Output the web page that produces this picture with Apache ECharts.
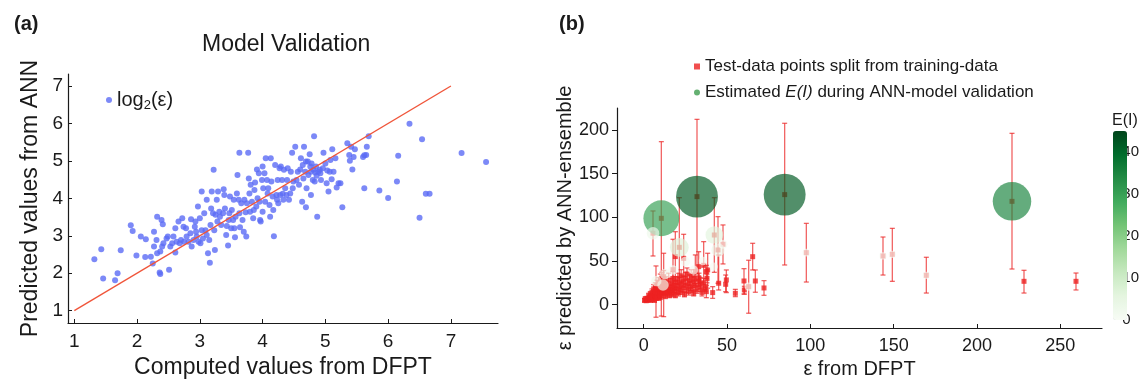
<!DOCTYPE html>
<html>
<head>
<meta charset="utf-8">
<script src="https://cdn.jsdelivr.net/npm/echarts@6/dist/echarts.min.js"></script>
<style>
  html, body { margin: 0; padding: 0; background: #fff; }
  #chart { width: 1142px; height: 387px; }
</style>
</head>
<body>
<div id="chart"></div>
<script>
// panel (a): log2(eps), computed (DFPT) vs predicted (ANN)
const logPoints = [
  [1.32,2.37],[1.43,2.64],[1.46,1.86],[1.65,1.81],[1.69,2.0],[1.74,2.61],[1.90,3.28],[1.93,3.13],
  [1.99,2.47],[2.06,2.98],[2.13,2.43],[2.14,2.91],[2.22,2.44],[2.25,2.26],[2.27,3.11],[2.32,3.51],
  [2.31,2.89],[2.36,2.02],[2.37,1.98],[2.39,3.42],[2.41,3.31],[2.51,2.09],[2.27,2.71],[2.32,2.53],
  [2.37,2.58],[2.40,2.71],[2.42,2.80],[2.47,2.93],[2.49,2.98],[2.53,2.71],[2.56,2.80],[2.58,2.98],
  [2.61,3.20],[2.61,2.55],[2.63,2.84],[2.66,3.38],[2.68,2.80],[2.70,2.89],[2.72,3.47],[2.74,3.24],
  [2.75,2.84],[2.78,3.20],[2.79,2.98],[2.82,2.84],[2.85,3.07],[2.86,3.44],[2.87,2.71],[2.90,2.89],
  [2.92,3.24],[2.93,3.38],[2.94,3.11],[2.95,2.98],[2.97,3.78],[2.98,2.84],[3.00,3.47],[3.01,2.80],
  [3.03,4.18],[3.03,3.15],[3.05,2.93],[3.07,3.60],[3.09,3.15],[3.11,3.96],[3.11,3.02],[3.13,2.53],
  [3.15,2.89],[3.16,2.28],[3.17,3.29],[3.18,3.73],[3.19,4.18],[3.21,3.60],[3.22,4.76],[3.23,3.15],
  [3.24,2.62],[3.25,3.56],[3.27,3.96],[3.28,3.38],[3.29,4.18],[3.31,3.64],[3.32,3.51],[3.34,3.29],
  [3.37,3.60],[3.38,4.24],[3.39,4.09],[3.40,3.73],[3.42,3.02],[3.43,3.26],[3.45,2.74],[3.46,3.42],
  [3.47,3.60],[3.48,4.05],[3.50,3.20],[3.51,3.69],[3.53,3.42],[3.54,3.96],[3.55,3.20],[3.56,2.96],
  [3.57,3.51],[3.59,4.13],[3.60,4.62],[3.62,3.96],[3.63,5.22],[3.63,3.60],[3.64,3.23],[3.66,3.87],
  [3.68,3.42],[3.70,3.11],[3.71,3.96],[3.73,3.63],[3.74,2.98],[3.75,3.87],[3.77,5.22],[3.78,4.53],
  [3.79,4.13],[3.80,3.64],[3.81,4.36],[3.83,3.91],[3.85,3.47],[3.86,3.69],[3.87,4.22],[3.88,4.42],
  [3.90,3.78],[3.91,4.77],[3.92,4.00],[3.94,4.67],[3.95,3.91],[3.96,3.42],[3.97,3.38],[3.99,4.49],
  [4.00,3.64],[4.00,4.85],[4.01,4.27],[4.03,4.67],[4.04,3.91],[4.05,5.07],[4.07,4.49],[4.08,4.13],
  [4.09,4.27],[4.11,3.82],[4.12,3.51],[4.13,5.07],[4.14,4.45],[4.16,4.05],[4.17,3.69],[4.18,2.99],
  [4.20,4.89],[4.22,4.09],[4.23,3.96],[4.24,4.49],[4.25,3.87],[4.27,4.80],[4.28,4.09],[4.29,4.85],
  [4.31,4.49],[4.32,4.12],[4.33,3.96],[4.34,4.76],[4.36,4.27],[4.38,4.09],[4.39,4.49],[4.40,4.80],
  [4.42,3.96],[4.44,4.13],[4.45,4.71],[4.47,5.22],[4.48,4.27],[4.49,4.45],[4.52,5.38],[4.54,4.49],
  [4.56,4.71],[4.58,4.36],[4.60,4.77],[4.61,5.07],[4.63,3.91],[4.64,4.89],[4.65,4.53],[4.66,5.38],
  [4.68,4.71],[4.69,3.76],[4.69,4.98],[4.70,4.27],[4.72,4.98],[4.73,4.62],[4.75,5.18],[4.76,4.85],
  [4.77,4.71],[4.77,4.09],[4.78,4.93],[4.80,4.49],[4.81,4.76],[4.82,5.66],[4.83,4.45],[4.84,4.69],
  [4.85,4.85],[4.86,4.60],[4.87,3.51],[4.89,4.71],[4.91,4.76],[4.92,4.67],[4.93,4.49],[4.96,4.80],
  [4.97,5.22],[5.00,4.93],[5.02,4.40],[5.03,4.74],[5.05,4.18],[5.07,4.71],[5.08,5.02],[5.10,4.51],
  [5.11,5.31],[5.13,4.71],[5.16,5.07],[5.18,4.29],[5.21,4.40],[5.24,4.40],[5.27,3.76],[5.35,5.47],
  [5.38,5.16],[5.39,5.00],[5.41,5.38],[5.43,4.77],[5.45,5.10],[5.47,5.31],[5.60,5.10],[5.62,5.15],
  [5.65,5.16],[5.66,5.38],[5.69,5.66],[5.62,4.27],[5.86,4.21],[6.00,4.01],[6.14,4.45],[6.16,5.14],
  [6.34,5.99],[6.50,3.48],[6.54,5.58],[6.60,4.12],[6.66,4.12],[7.17,5.21],[7.56,4.97]
];
const diagLine = [[1, 1], [7, 7]];
const ticksA = [1, 2, 3, 4, 5, 6, 7];

// panel (b): [eps DFPT, eps ANN, lower, upper]
const testPoints = [
  [10.6,98.8,-13,186.5],[32,123.6,35,212],[84.6,125.9,45.4,207.5],[221,118.2,40.8,196],
  [97.6,59.5,25.9,93],[143.6,55.7,33.9,77.4],[149.2,57.6,26.7,87.3],[169.6,33.6,13.3,54.2],
  [228.2,26.7,13.3,39.3],[259.4,26.7,16.8,36.2],[65.4,54.9,39.7,70.2],[67,27.1,14.2,39.7],
  [72.2,19.1,10.7,27.5],[60.2,27.1,12.2,41.2],[63,20.6,-9.8,50.8],[60.4,16.8,12,21],
  [5.6,81.7,55.7,107.2],[21.4,65.6,12,122.4],[42.4,79.7,37,122.4],[47.6,69.1,46.6,91.2],
  [44.6,62.6,24.5,100.7],[36,45,16.8,72.1],[38.4,39.7,18.8,58.8],[33,43.5,28.3,60.6],
  [31,38,22,56.9],[24,53,32,80.5],[19,55,27,83.5],[17.6,40,10,74.8],[12,28,-13.7,58.8],
  [7.4,16,-14.4,44.3],[49.6,28.3,13.8,39.7],[55,13,9.2,17.5],[49.2,23.3,14.9,33.9],
  [45,24.5,16.8,56.8],[41.4,13.8,7.2,20.6],[37.6,37.8,30,45],[37.6,14.9,8,22],
  [34,24.4,18,31],[33.2,30.1,24,36],
  [0.5,5,3,7],[1,6.5,4,9],[1.5,4.5,3,6.5],[2,7,5,9.5],[2.5,5.5,3.5,7.5],[3,6,4,8.5],[3,10,7,13],
  [3.5,8,5,11],[4,5,3,7],[4,12,9,15],[4.5,7,4.5,9.5],[5,6.5,4,9],[5,14,10,18],[5.5,9,6,12],
  [6,8,5,11],[6,13,9,17],[6,18,13,23],[6.5,5,3,7],[7,10,6,14],[7,15,10,20],[7,20,15,25],
  [7.5,7.5,5,10],[8,9,6,12],[8,22,16,28],[8.5,12,8,16],[9,8,5,11],[9,16,12,20],[9,25,19,31],
  [9.5,11,7,15],[10,9.5,6,13],[10,14,10,18],[10,28,21,35],[10.5,18,13,23],[11,12,8,16],
  [11,30,23,37],[11.5,20,14,26],[12,15,11,19],[12,32,25,39],[12.5,22,16,28],[13,17,12,22],
  [13,10,7,13],[13.5,25,18,32],[14,13,9,17],[14.5,19,14,24],[15,15,11,19],[15,28,20,36],
  [15.5,11,8,14],[16,21,16,26],[16.5,17,12,22],[17,24,18,30],[17,13,9,17],[17.5,30,22,38],
  [18,19,14,24],[18.5,16,12,20],[19,26,20,32],[19,11,8,14],[19.5,22,17,27],[20,18,13,23],
  [20.5,30,24,36],[21,14,10,18],[21.5,25,19,31],[22,20,15,25],[22.5,33,26,40],[23,16,12,20],
  [23.5,27,21,33],[24,22,17,27],[24.5,12,9,15],[25,30,23,37],[25.5,19,14,24],[26,35,28,42],
  [26.5,24,19,29],[27,15,11,19],[27.5,28,22,34],[28,21,16,26],[28.5,33,26,40],[29,18,14,22],
  [29.5,26,20,32],[30,13,10,16],[30.5,30,24,36],[31,22,17,27],[32,17,13,21],[33,27,21,33],
  [34,20,15,25],[35,14,10,18],[36,25,20,30],[37,19,15,23],[38,30,25,35]
];
// [eps DFPT, eps ANN, E(I)]
const bubbles = [
  [10.6,98.8,30],[32,123.6,42],[84.6,125.9,42],[221,118.2,35],[21.4,65.6,7],[42.4,79.7,6],
  [5.6,81.7,2.5],[44.6,62.6,3],[7.6,27.1,1.5],[11.6,22.5,2],[12.8,35.1,1.5],[17.6,39.7,1.2],
  [25,49.2,1.2],[30,39.7,1],[35.6,50,0.8],[47.6,69.1,1],[42,43.5,0.8],[63,20.6,0.8],
  [97.6,59.5,0.6],[143.6,55.7,0.5],[149.2,57.6,0.5],[169.6,33.6,0.5]
];
const xTicksB = [0, 50, 100, 150, 200, 250];
const yTicksB = [0, 50, 100, 150, 200];
const colorTicks = [0, 10, 20, 30, 40];
const greens = ['#f7fcf5', '#e5f5e0', '#c7e9c0', '#a1d99b', '#74c476', '#41ab5d', '#238b45', '#006d2c', '#00441b'];

const font = "'Liberation Sans', Arial, sans-serif";
const ink = '#1a1a1a';
const chart = echarts.init(document.getElementById('chart'));

function valueAxis(extra) {
  return Object.assign({
    type: 'value',
    splitLine: { show: false },
    axisLine: { show: true, onZero: false, lineStyle: { color: ink, width: 1.2 } },
    axisTick: { show: true, inside: true, length: 4, lineStyle: { color: ink } },
    axisLabel: { color: ink, fontFamily: font, fontSize: 19 },
    nameTextStyle: { color: ink, fontFamily: font, fontSize: 23 },
    nameLocation: 'middle'
  }, extra);
}

const errRed = 'rgba(236,40,40,0.72)';

const option = {
  animation: false,
  textStyle: { fontFamily: font },
  title: [
    { text: '(a)', left: 9, top: 9, textStyle: { fontFamily: font, fontSize: 20, fontWeight: 'bold', color: ink } },
    { text: '(b)', left: 554, top: 9, textStyle: { fontFamily: font, fontSize: 20, fontWeight: 'bold', color: ink } },
    { text: 'Model Validation', left: 197, top: 28, textStyle: { fontFamily: font, fontSize: 23, fontWeight: 'normal', color: ink } },
    { text: 'E(I)', left: 1107, top: 108, textStyle: { fontFamily: font, fontSize: 16, fontWeight: 'normal', color: ink } }
  ],
  legend: [
    {
      data: ['log2'],
      left: 101, top: 85,
      icon: 'circle', itemWidth: 6, itemHeight: 6,
      formatter: () => '{a|log}{s|2}{a|(ε)}',
      textStyle: {
        color: ink,
        rich: {
          a: { fontFamily: font, fontSize: 20, color: ink },
          s: { fontFamily: font, fontSize: 13, color: ink, padding: [10, 0, 0, 0] }
        }
      }
    },
    {
      data: [
        { name: 'Test-data points split from training-data', icon: 'rect', itemStyle: { color: '#ee2222' } },
        { name: 'Estimated E(I) during ANN-model validation', icon: 'circle', itemStyle: { color: '#1b8a2e' } }
      ],
      left: 689, top: 53, orient: 'vertical', itemGap: 9,
      itemWidth: 6, itemHeight: 6,
      formatter: name => name.startsWith('Estimated')
        ? '{n|Estimated }{i|E(I)}{n| during ANN-model validation}'
        : '{n|' + name + '}',
      textStyle: {
        rich: {
          n: { fontFamily: font, fontSize: 17, color: ink },
          i: { fontFamily: font, fontSize: 17, color: ink, fontStyle: 'italic' }
        }
      }
    }
  ],
  grid: [
    { left: 68, top: 74, width: 430, height: 249 },
    { left: 617, top: 108, width: 485, height: 220 },
    { left: 1113, top: 131, width: 14, height: 189 }
  ],
  xAxis: [
    valueAxis({
      gridIndex: 0, min: 0.9, max: 7.75,
      name: 'Computed values from DFPT', nameGap: 30,
      axisTick: { show: true, inside: true, length: 4, customValues: ticksA, lineStyle: { color: ink } },
      axisLabel: { color: ink, fontFamily: font, fontSize: 19, margin: 9, customValues: ticksA }
    }),
    valueAxis({
      gridIndex: 1, min: -16, max: 275,
      name: 'ε from DFPT', nameGap: 30,
      nameTextStyle: { color: ink, fontFamily: font, fontSize: 20 },
      axisTick: { show: true, inside: true, length: 4, customValues: xTicksB, lineStyle: { color: ink } },
      axisLabel: { color: ink, fontFamily: font, fontSize: 18, margin: 9, customValues: xTicksB }
    }),
    { type: 'value', gridIndex: 2, show: false, min: 0, max: 1 }
  ],
  yAxis: [
    valueAxis({
      gridIndex: 0, min: 0.67, max: 7.32,
      name: 'Predicted values from ANN', nameGap: 26,
      axisTick: { show: true, inside: true, length: 4, customValues: ticksA, lineStyle: { color: ink } },
      axisLabel: { color: ink, fontFamily: font, fontSize: 19, margin: 5, customValues: ticksA }
    }),
    valueAxis({
      gridIndex: 1, min: -26.7, max: 225,
      name: 'ε predicted by ANN-ensemble', nameGap: 37,
      nameTextStyle: { color: ink, fontFamily: font, fontSize: 20 },
      axisTick: { show: true, inside: false, length: 5, customValues: yTicksB, lineStyle: { color: ink } },
      axisLabel: { color: ink, fontFamily: font, fontSize: 18, margin: 8, customValues: yTicksB }
    }),
    {
      type: 'value', gridIndex: 2, min: 0, max: 45, position: 'right',
      splitLine: { show: false }, axisLine: { show: false }, axisTick: { show: false },
      axisLabel: { color: ink, fontFamily: font, fontSize: 15, margin: 2, customValues: colorTicks }
    }
  ],
  visualMap: {
    type: 'continuous',
    seriesIndex: 4,
    dimension: 2,
    min: 0, max: 45,
    left: 1113, top: 131,
    itemWidth: 14, itemHeight: 189,
    padding: 0,
    calculable: false,
    text: null,
    showLabel: false,
    inRange: { color: greens }
  },
  series: [
    {
      name: 'log2', type: 'scatter', xAxisIndex: 0, yAxisIndex: 0,
      data: logPoints, symbolSize: 6,
      itemStyle: { color: '#5b6cf5' }
    },
    {
      name: 'fit', type: 'line', xAxisIndex: 0, yAxisIndex: 0,
      data: diagLine, symbol: 'none',
      lineStyle: { color: '#f0553a', width: 1.4 }
    },
    {
      name: 'errors', type: 'custom', xAxisIndex: 1, yAxisIndex: 1,
      data: testPoints, clip: true,
      encode: { x: 0, y: [1, 2, 3] },
      renderItem: (params, api) => {
        const x = api.value(0);
        const lo = api.coord([x, api.value(2)]);
        const hi = api.coord([x, api.value(3)]);
        const cap = 2.5;
        const style = { stroke: errRed, lineWidth: 1.3 };
        return {
          type: 'group',
          children: [
            { type: 'line', shape: { x1: lo[0], y1: lo[1], x2: hi[0], y2: hi[1] }, style },
            { type: 'line', shape: { x1: lo[0] - cap, y1: lo[1], x2: lo[0] + cap, y2: lo[1] }, style },
            { type: 'line', shape: { x1: hi[0] - cap, y1: hi[1], x2: hi[0] + cap, y2: hi[1] }, style }
          ]
        };
      }
    },
    {
      name: 'Test-data points split from training-data', type: 'scatter', xAxisIndex: 1, yAxisIndex: 1,
      data: testPoints, symbol: 'rect', symbolSize: 5,
      encode: { x: 0, y: 1 },
      itemStyle: { color: '#ee2222' }
    },
    {
      name: 'Estimated E(I) during ANN-model validation', type: 'scatter', xAxisIndex: 1, yAxisIndex: 1,
      data: bubbles,
      symbolSize: v => 3 + 6 * Math.sqrt(v[2]),
      itemStyle: { opacity: 0.68 }
    }
  ]
};

chart.setOption(option);
window.addEventListener('resize', () => chart.resize());
</script>
</body>
</html>
